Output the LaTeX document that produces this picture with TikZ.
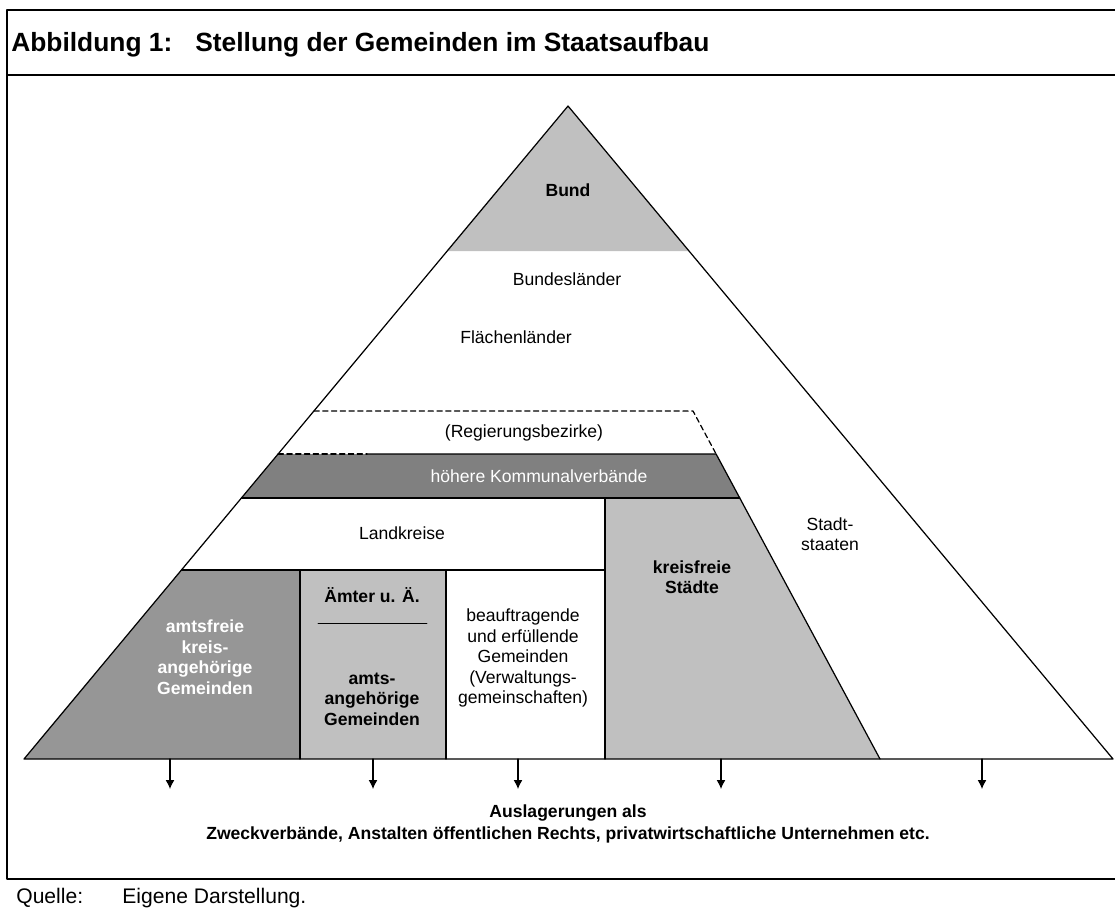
\documentclass[tikz,border=0pt]{standalone}
\usepackage{fontspec}
\setmainfont{Liberation Sans}
\usepackage{xcolor}
\usetikzlibrary{arrows.meta}
\tikzset{>=latex}
\definecolor{hellgrau}{HTML}{C0C0C0}
\definecolor{mittelgrau}{HTML}{969696}
\definecolor{dunkelgrau}{HTML}{808080}
\tikzstyle{rahmen}=[line width=1pt,black]
\tikzstyle{kante}=[line width=0.7pt,black]
\tikzstyle{gestrichelt}=[line width=0.7pt,black,dash pattern=on 3pt off 2pt]
\tikzstyle{txt}=[inner sep=0pt,align=center,font=\fontsize{10}{11.7}\selectfont]
\tikzstyle{fett}=[txt,font=\fontsize{10}{11.7}\selectfont\bfseries]
\tikzstyle{kopf}=[anchor=west,inner sep=0pt,font=\fontsize{15}{18}\selectfont\bfseries]
\tikzstyle{fuss}=[anchor=west,inner sep=0pt,font=\fontsize{12}{14}\selectfont]
\tikzstyle{auslagerung}=[-{Latex[length=5pt,width=5pt]},line width=0.7pt,black]

\begin{document}
\begin{tikzpicture}[x=0.02cm, y=-0.02cm, line cap=round, line join=round]
	\useasboundingbox (0,0) rectangle (1115,920);
	% Rahmen
	\draw[rahmen] (1115,10) -- (7,10) -- (7,879) -- (1115,879);
	\draw[rahmen] (7,75) -- (1115,75);
	\node[kopf] (abb) at (11,45) {Abbildung 1:};
	\node[kopf] (titel) at (195,45) {Stellung der Gemeinden im Staatsaufbau};
	\node[fuss] (quelle) at (16,898) {Quelle:};
	\node[fuss] (darst) at (122,898) {Eigene Darstellung.};
	% Eckpunkte
	\coordinate (S) at (568,106);
	\coordinate (L) at (24,759);
	\coordinate (R) at (1113,759);
	\coordinate (BL) at (447.2,251);
	\coordinate (BR) at (689,251);
	\coordinate (RL) at (313.9,411);
	\coordinate (RR) at (693,411);
	\coordinate (KL) at (278.1,454);
	\coordinate (KM) at (367,454);
	\coordinate (KR) at (716.1,454);
	\coordinate (LL) at (241.4,498);
	\coordinate (LR) at (739.8,498);
	\coordinate (LM) at (605,498);
	\coordinate (GL) at (181.5,570);
	\coordinate (G1) at (300,570);
	\coordinate (G2) at (446,570);
	\coordinate (G3) at (605,570);
	\coordinate (U1) at (300,759);
	\coordinate (U2) at (446,759);
	\coordinate (U3) at (605,759);
	\coordinate (U4) at (880,759);
	% Flaechen
	\fill[hellgrau] (S) -- (BL) -- (BR) -- cycle;
	\fill[dunkelgrau] (KL) -- (KR) -- (LR) -- (LL) -- cycle;
	\fill[hellgrau] (LM) -- (LR) -- (U4) -- (U3) -- cycle;
	\fill[mittelgrau] (GL) -- (G1) -- (U1) -- (L) -- cycle;
	\fill[hellgrau] (G1) -- (G2) -- (U2) -- (U1) -- cycle;
	% Linien
	\draw[kante] (S) -- (L) -- (R) -- cycle;
	\draw[gestrichelt] (RL) -- (RR) -- (KR);
	\draw[gestrichelt] (KL) -- (KM);
	\draw[kante] (KM) -- (KR) -- (U4);
	\draw[kante] (LL) -- (LR);
	\draw[kante] (LM) -- (U3);
	\draw[kante] (GL) -- (G3);
	\draw[kante] (G1) -- (U1);
	\draw[kante] (G2) -- (U2);
	\draw[line width=0.5pt] (318,623) -- (427,623);
	% Beschriftungen
	\node[fett] (bund) at (568,190) {Bund};
	\node[txt] (laender) at (567,279) {Bundesländer};
	\node[txt] (flaeche) at (516,337) {Flächenländer};
	\node[txt] (bezirke) at (524,433) {(Regierungsbezirke)};
	\node[txt,text=white] (hoehere) at (539,476) {höhere Kommunalverbände};
	\node[txt] (landkreise) at (402,533) {Landkreise};
	\node[fett] (kreisfrei) at (692,577) {kreisfreie\\Städte};
	\node[txt] (stadtstaaten) at (830,534) {Stadt-\\staaten};
	\node[fett,text=white] (amtsfrei) at (205,657) {amtsfreie\\kreis-\\angehörige\\Gemeinden};
	\node[fett] (aemter) at (372,595) {Ämter u. Ä.};
	\node[fett] (amtsangeh) at (372,699) {amts-\\angehörige\\Gemeinden};
	\node[txt] (beauftr) at (523,658) {beauftragende\\und erfüllende\\Gemeinden\\(Verwaltungs-\\gemeinschaften)};
	\node[fett,font=\fontsize{10}{12.5}\selectfont\bfseries] (auslag) at (568,824) {Auslagerungen als\\Zweckverbände, Anstalten öffentlichen Rechts, privatwirtschaftliche Unternehmen etc.};
	% Pfeile
	\coordinate (A1) at (170,759);
	\coordinate (A2) at (373,759);
	\coordinate (A3) at (518,759);
	\coordinate (A4) at (721,759);
	\coordinate (A5) at (982,759);
	\coordinate (B1) at (170,789);
	\coordinate (B2) at (373,789);
	\coordinate (B3) at (518,789);
	\coordinate (B4) at (721,789);
	\coordinate (B5) at (982,789);
	\draw[auslagerung] (A1) -- (B1);
	\draw[auslagerung] (A2) -- (B2);
	\draw[auslagerung] (A3) -- (B3);
	\draw[auslagerung] (A4) -- (B4);
	\draw[auslagerung] (A5) -- (B5);
\end{tikzpicture}
\end{document}
